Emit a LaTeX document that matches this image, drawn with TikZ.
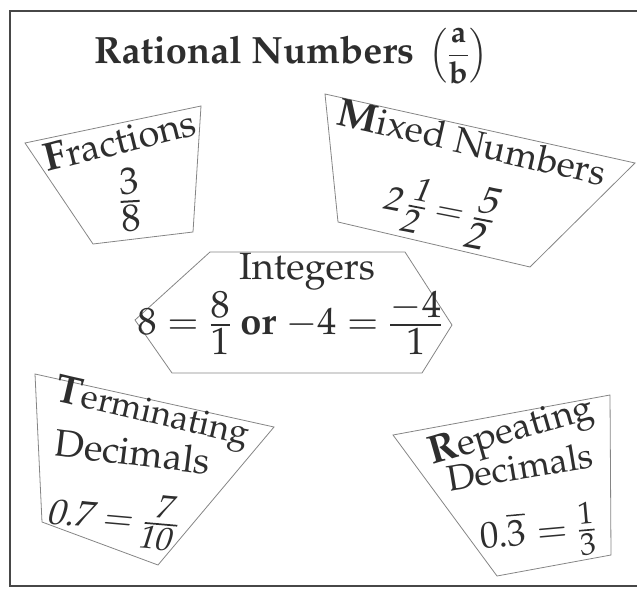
\documentclass[tikz,border=0pt]{standalone}
\usepackage{amsmath}
\usepackage{graphicx}
\usepackage[T1]{fontenc}
\usepackage{mathpazo}
\definecolor{ink}{HTML}{2E2E2E}
\definecolor{edgegray}{HTML}{858585}
\definecolor{framegray}{HTML}{474747}
\newcommand{\initcap}[1]{{\fontsize{40}{44}\selectfont\bfseries #1}}
% compact fraction with large digits: size, vertical shift, numerator, denominator
\newcommand{\myfrac}[4]{\raisebox{#2pt}{\fontsize{#1}{#1}\selectfont$\tfrac{#3}{#4}$}}
\begin{document}
\begin{tikzpicture}[x=1pt,y=-1pt,
  every node/.style={inner sep=0pt, text=ink},
  shapeline/.style={draw=edgegray, line width=0.8pt, line join=miter},
  framestyle/.style={draw=framegray, line width=2.4pt},
  lbl/.style={font=\fontsize{37}{40}\selectfont, anchor=base}]
\useasboundingbox (0,0) rectangle (637,591);
% frame
\draw[framestyle] (641,11) -- (10,11) -- (10,586) -- (641,586);
% shapes
\draw[shapeline] (25,143) -- (201,106) -- (193,232) -- (93,244) -- cycle;
\draw[shapeline] (325,94) -- (635,163) -- (530,267) -- (338,222) -- cycle;
\draw[shapeline] (210,252) -- (405,252) -- (452,325) -- (422,373) -- (172,373) -- (135,320) -- cycle;
\draw[shapeline] (35,374) -- (274,427) -- (158,565) -- (42,522) -- cycle;
\draw[shapeline] (393,435) -- (610,395) -- (611,555) -- (497,576) -- cycle;
% title
\node[font=\fontsize{38}{42}\selectfont\bfseries, anchor=base west] (title) at (94,64)
  {Rational Numbers\hspace{15pt}\raisebox{1pt}{\scalebox{0.8}{$\Bigl(\dfrac{\mathbf{a}}{\mathbf{b}}\Bigr)$}}};
% fractions
\node[lbl, rotate=14, font=\fontsize{38}{40}\selectfont] (fr) at (123,153) {\initcap{F}ractions};
\node[rotate=3] (frv) at (130,200) {\fontsize{50}{50}\selectfont$\tfrac{3}{8}$};
% mixed numbers
\node[lbl, rotate=-13] (mx) at (469,155) {\initcap{M}ixed Numbers};
\node[font=\fontsize{34}{36}\selectfont, rotate=-11, xslant=0.2] (mxv) at (440,210)
  {$2\,\myfrac{44}{-2.5}{1}{2} = \myfrac{50}{-4}{5}{2}$};
% integers
\node[lbl, font=\fontsize{38}{40}\selectfont] (ig) at (307,279) {Integers};
\node[font=\fontsize{38}{42}\selectfont, anchor=base] (igv) at (290,334)
  {$8 = \myfrac{50}{-3}{8}{1}$ \textbf{or} $-4 = \myfrac{50}{-3}{-4}{1}$};
% terminating decimals
\node[lbl, rotate=-13, font=\fontsize{35}{38}\selectfont] (tm) at (150,423) {\initcap{T}erminating};
\node[lbl, rotate=-7, font=\fontsize{38}{40}\selectfont] (tmd) at (131,465) {Decimals};
\node[font=\fontsize{36}{40}\selectfont, rotate=-5, xslant=0.22] (tmv) at (114,519)
  {$0.7 = \myfrac{43}{-1.5}{7}{10}$};
% repeating decimals
\node[lbl, rotate=16] (rp) at (514,441) {\initcap{R}epeating};
\node[lbl, rotate=9.5, font=\fontsize{36}{40}\selectfont] (rpd) at (522,479) {Decimals};
\node[font=\fontsize{37}{40}\selectfont, rotate=5] (rpv) at (538,533)
  {$0.\overline{3} = \myfrac{41}{-1}{1}{3}$};
\end{tikzpicture}
\end{document}
